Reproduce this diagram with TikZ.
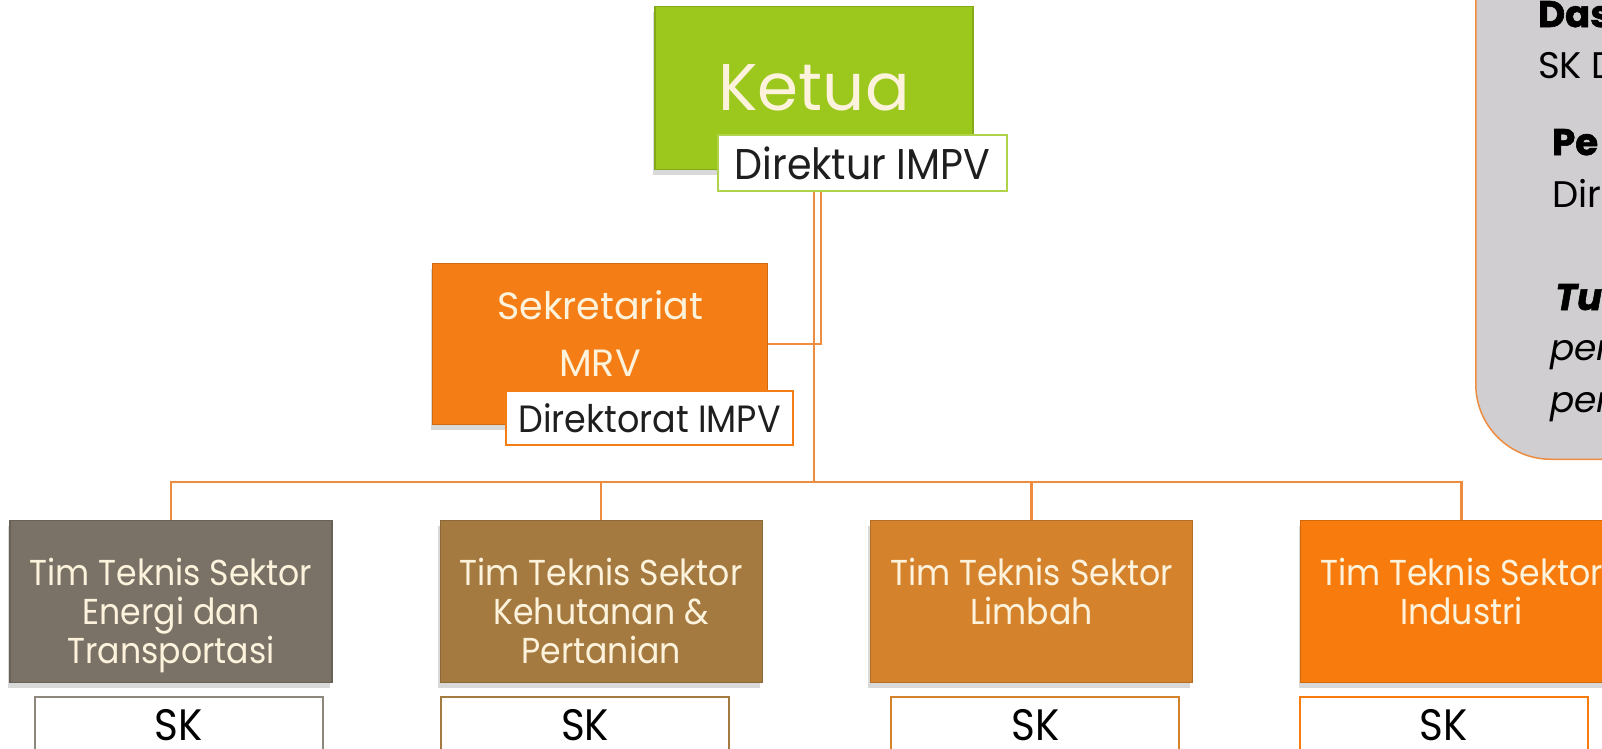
\documentclass[tikz,border=0pt]{standalone}
\usepackage{fontspec}
\setmainfont{Poppins}
\newfontfamily\narrowfont{Poppins}[FakeStretch=0.92]
\newfontfamily\heavyfont{Poppins}[FakeBold=1.6]
\usepackage{tikz}
\usetikzlibrary{positioning,shadows,backgrounds}

\definecolor{ketuagreen}{HTML}{9CC81E}
\definecolor{sekorange}{HTML}{F47D15}
\definecolor{energigrey}{HTML}{7A7266}
\definecolor{hutanbrown}{HTML}{A57A40}
\definecolor{limbahorange}{HTML}{D5822C}
\definecolor{industriorange}{HTML}{F77C0D}
\definecolor{wirecol}{HTML}{EE8C40}
\definecolor{boxtext}{HTML}{FDF3DC}
\definecolor{lbltext}{HTML}{1E1E1E}
\definecolor{panelgrey}{HTML}{D0CED0}

% text placed from the top of a box: height, top skip, text
\newcommand{\toptext}[3]{\parbox[c][#1][t]{316pt}{\centering\vspace*{#2}#3}}

\begin{document}
\begin{tikzpicture}[x=1pt,y=-1pt,
   box/.style={draw=#1!85!black,line width=1.2pt,fill=#1,text=boxtext,inner sep=0pt,
               drop shadow={opacity=.3,shadow xshift=-2pt,shadow yshift=-5pt}},
   team/.style={box=#1,minimum width=322pt,minimum height=162pt,anchor=north,
                font=\narrowfont\fontsize{36}{39}\selectfont},
   lbl/.style={draw=#1,line width=2pt,fill=white,text=lbltext,inner sep=0pt},
   skbox/.style={draw=#1,line width=2pt,fill=white,text=black,minimum width=288pt,
                 minimum height=55pt,font=\narrowfont\fontsize{44}{46}\selectfont},
   wire/.style={draw=wirecol,line width=2.5pt},
   info/.style={anchor=base west,inner sep=0pt,text=black}]
  \clip (0,0) rectangle (1602,748);

  \node[box=ketuagreen,minimum width=318pt,minimum height=163pt,
        font=\fontsize{66}{70}\selectfont] (ketua) at (814,88) {Ketua};
  \node[lbl=ketuagreen!80!white,minimum width=289pt,minimum height=56pt,
        font=\narrowfont\fontsize{43}{45}\selectfont,
        anchor=north west] (direktur) at (717,134) {Direktur IMPV};

  \node[box=sekorange,minimum width=335pt,minimum height=161pt,
        font=\fontsize{38}{57}\selectfont] (sek) at (600,344)
       {\toptext{161pt}{27pt}{Sekretariat\\MRV}};
  \node[lbl=sekorange,minimum width=287pt,minimum height=54pt,
        font=\narrowfont\fontsize{38}{40}\selectfont,
        anchor=north west] (direktorat) at (505,390) {Direktorat IMPV};

  \node[team=energigrey] (t1) at (171,520)
       {\toptext{162pt}{37pt}{Tim Teknis Sektor\\Energi dan\\Transportasi}};
  \node[team=hutanbrown,right=107pt of t1] (t2)
       {\toptext{162pt}{37pt}{Tim Teknis Sektor\\Kehutanan \&\\Pertanian}};
  \node[team=limbahorange,right=107pt of t2] (t3)
       {\toptext{162pt}{37pt}{Tim Teknis Sektor\\Limbah}};
  \node[team=industriorange,right=107pt of t3] (t4)
       {\toptext{162pt}{37pt}{Tim Teknis Sektor\\Industri}};

  \node[skbox=energigrey!85!white,below=13pt of t1,xshift=8pt] (sk1) {SK};
  \node[skbox=hutanbrown,below=13pt of t2,xshift=-16pt] (sk2) {SK};
  \node[skbox=limbahorange,below=13pt of t3,xshift=4pt] (sk3) {SK};
  \node[skbox=industriorange,below=13pt of t4,xshift=-18pt] (sk4) {SK};

  % side note
  \node[draw=wirecol,line width=1.5pt,fill=panelgrey,rounded corners=75pt,
        minimum width=320pt,minimum height=600pt,anchor=south west] (dasarbox)
        at (1475,460) {};
  \node[info,font=\heavyfont\fontsize{37}{37}\selectfont\bfseries] (dasar) at (1538,27) {Das};
  \node[info,font=\fontsize{37}{37}\selectfont] (skd) at (1538,78) {SK D};
  \node[info,font=\heavyfont\fontsize{37}{37}\selectfont\bfseries] (pj) at (1552,155) {Pe};
  \node[info,font=\fontsize{37}{37}\selectfont] (dirj) at (1552,207) {Dir};
  \node[info,font=\heavyfont\fontsize{37}{37}\selectfont\bfseries\itshape] (tugas) at (1555,310) {Tu};
  \node[info,font=\fontsize{36}{36}\selectfont\itshape] (tugasa) at (1550,360) {per};
  \node[info,font=\fontsize{36}{36}\selectfont\itshape] (tugasb) at (1550,412) {per};

  \coordinate (bus) at (814,482);
  \begin{scope}[on background layer]
    \draw[wire] (ketua.south) -- (ketua.south |- bus);
    \draw[wire] ([xshift=7pt]ketua.south) |- (sek.east);
    \draw[wire] (t1.north) -- (t1.north |- bus) -- (t4.north |- bus) -- (t4.north);
    \foreach \t in {t2,t3}
      \draw[wire] (\t.north) -- (\t.north |- bus);
  \end{scope}
\end{tikzpicture}
\end{document}
